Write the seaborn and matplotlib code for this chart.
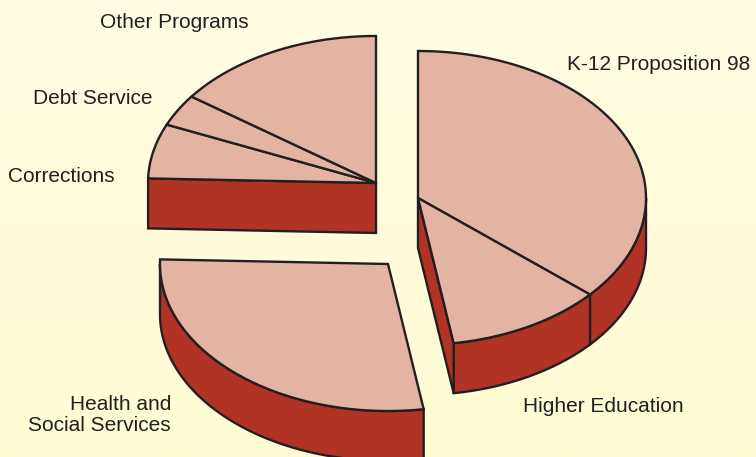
import numpy as np
import matplotlib
matplotlib.use("Agg")
import matplotlib.pyplot as plt
import seaborn as sns
from matplotlib.patches import Polygon

# budget shares (percent), clockwise from 12 o'clock
labels = ["K-12 Proposition 98", "Higher Education", "Health and\nSocial Services",
          "Corrections", "Debt Service", "Other Programs"]
shares = [36.4, 11.1, 28.0, 6.0, 3.5, 15.0]
groups = [0, 0, 1, 2, 2, 2]   # slices pulled out together

# look of the 3d pie (pixel units)
centers = {0: (418, 198), 1: (388, 264), 2: (376, 183)}
RX, RY, DEPTH = 228, 147, 50
TOP = "#e4b4a3"
SIDE = "#b03326"
EDGE = "#231f20"
LW = 1.7

label_pos = {
    "K-12 Proposition 98": (567, 64, "left"),
    "Higher Education": (523, 406, "left"),
    "Health and\nSocial Services": (171, 415, "right"),
    "Corrections": (8, 176, "left"),
    "Debt Service": (33, 98, "left"),
    "Other Programs": (100, 22, "left"),
}

sns.set_style("white")
plt.rcParams["font.family"] = ["Liberation Sans", "DejaVu Sans"]

fig = plt.figure(figsize=(7.56, 4.57), dpi=100)
ax = fig.add_axes([0, 0, 1, 1])
ax.set_xlim(0, 756)
ax.set_ylim(457, 0)
ax.axis("off")

# soft yellow background
grad = np.linspace(0, 1, 256).reshape(-1, 1)
bg = matplotlib.colors.LinearSegmentedColormap.from_list("bg", ["#fffde2", "#fffbd4"])
ax.imshow(grad, cmap=bg, extent=[0, 756, 457, 0], aspect="auto", zorder=0)


def pt(c, th, z=0.0):
    return (c[0] + RX * np.cos(th), c[1] - RY * np.sin(th) + z)


def arc(c, a, b, z=0.0, n=120):
    t = np.linspace(a, b, n)
    return [pt(c, x, z) for x in t]


# slice angles (degrees, math ccw), going clockwise from 90
total = sum(shares)
angles = []
start = 90.0
for v in shares:
    end = start - v / total * 360.0
    angles.append((end, start))   # (lo, hi)
    start = end

order = [2, 0, 1]   # back to front
for g in order:
    c = centers[g]
    idx = [i for i in range(len(shares)) if groups[i] == g]
    glo = min(angles[i][0] for i in idx)
    ghi = max(angles[i][1] for i in idx)

    # outer side walls where the rim faces the viewer
    for i in idx:
        lo, hi = angles[i]
        for k in range(-2, 2):
            a = max(lo, -180 + 360 * k)
            b = min(hi, 0 + 360 * k)
            if b > a:
                ar, br = np.radians(a), np.radians(b)
                poly = arc(c, ar, br) + arc(c, br, ar, DEPTH)
                ax.add_patch(Polygon(poly, closed=True, fc=SIDE, ec=EDGE, lw=LW, zorder=2))

    # cut faces of the pulled-out group
    for ang, visible in [(glo, np.cos(np.radians(glo)) > 1e-6),
                         (ghi, np.cos(np.radians(ghi)) < -1e-6)]:
        if visible:
            r = np.radians(ang)
            poly = [c, pt(c, r), pt(c, r, DEPTH), (c[0], c[1] + DEPTH)]
            ax.add_patch(Polygon(poly, closed=True, fc=SIDE, ec=EDGE, lw=LW, zorder=2))

    # top faces
    for i in idx:
        lo, hi = angles[i]
        poly = [c] + arc(c, np.radians(lo), np.radians(hi))
        ax.add_patch(Polygon(poly, closed=True, fc=TOP, ec=EDGE, lw=LW,
                             joinstyle="miter", zorder=3))

for name in labels:
    x, y, ha = label_pos[name]
    ax.text(x, y, name, ha=ha, va="center", fontsize=15, color=EDGE,
            multialignment=ha, linespacing=1.15, zorder=5)

fig.savefig("out.png", dpi=100)
